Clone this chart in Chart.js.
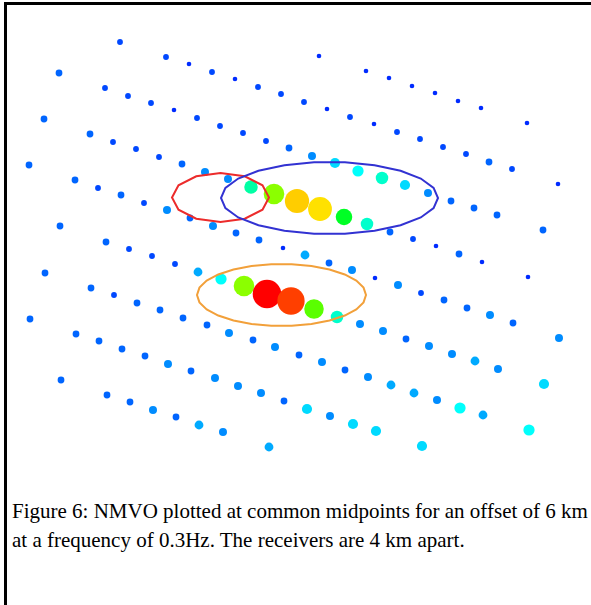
<!DOCTYPE html>
<html>
<head>
<meta charset="utf-8">
<script src="https://cdn.jsdelivr.net/npm/chart.js@4/dist/chart.umd.min.js"></script>
<style>
  html, body { margin: 0; padding: 0; background: #fff; overflow: hidden; }
  body { width: 591px; height: 605px; position: relative; }
  #frame { position: absolute; left: 4px; top: 2px; width: 700px; height: 700px;
           border-top: 3px solid #000; border-left: 3px solid #000; }
  #plot { position: absolute; left: 0; top: 0; }
  #caption { position: absolute; left: 12px; top: 497px; width: 590px;
             font-family: "Liberation Serif", "Times New Roman", serif;
             font-size: 21px; line-height: 29px; color: #000; white-space: nowrap; }
</style>
</head>
<body>
<div id="frame"></div>
<canvas id="plot" width="591" height="480"></canvas>
<div id="caption">Figure 6: NMVO plotted at common midpoints for an offset of 6 km<br>at a frequency of 0.3Hz. The receivers are 4 km apart.</div>
<script>
// common midpoint positions (x across, y down) and the NMVO value at each
const midX = [
  12.0,
  16.6, 18.9, 21.2, 23.5, 25.8, 28.1, 30.4, 32.7, 35.0, 37.4, 39.7, 42.0, 44.3, 46.6, 48.9, 51.2,
  31.9, 36.6, 38.9, 41.2, 43.5, 45.8, 48.1, 52.7,
  5.9,
  10.5, 12.8, 15.1, 17.4, 19.7, 22.0, 24.3, 26.6, 28.9, 31.2, 33.5, 35.8, 38.2, 40.5, 42.8, 45.1, 47.4, 49.7,
  55.8, 4.4,
  9.0, 11.3, 13.6, 15.9, 18.2, 20.5, 22.8, 25.1, 27.4, 29.7, 32.0, 34.4, 36.7, 39.0, 41.3, 43.6, 45.9, 48.2,
  52.8, 54.3, 2.9,
  7.5, 9.8, 12.1, 14.4, 16.7, 19.0, 21.3, 23.6, 25.9, 28.3, 30.5, 32.9, 35.2, 37.5, 39.8, 42.1, 44.4, 46.7, 49.0, 51.3,
  55.9, 6.0,
  10.6, 12.9, 15.2, 17.5, 19.8, 22.1, 24.4, 26.7, 29.1, 31.4, 33.7, 36.0, 38.3, 40.6, 42.9, 45.2, 47.5, 49.8,
  54.4, 4.5,
  9.1, 11.4, 13.7, 16.0, 18.3, 20.7, 22.9, 25.3, 27.5, 29.9, 32.2, 34.5, 36.8, 39.1, 41.4, 43.7, 46.0, 48.3,
  52.9, 3.0,
  7.6, 9.9, 12.2, 14.5, 16.8, 19.1, 21.5, 23.8, 26.1, 28.4, 30.7, 33.0, 35.3, 37.6,
  42.2, 6.1,
  10.7, 13.0, 15.3, 17.6, 19.9, 22.3,
  26.9
];
const midY = [
  4.2,
  5.7, 6.4, 7.2, 7.9, 8.7, 9.4, 10.2, 10.9, 11.7, 12.4, 13.2, 13.9, 14.7, 15.4, 16.2, 16.9,
  5.6, 7.1, 7.8, 8.6, 9.3, 10.1, 10.8, 12.3,
  7.3,
  8.8, 9.6, 10.3, 11.0, 11.8, 12.6, 13.3, 14.1, 14.8, 15.6, 16.3, 17.1, 17.8, 18.5, 19.3, 20.1, 20.8, 21.5,
  18.4, 11.9,
  13.4, 14.2, 14.9, 15.7, 16.4, 17.2, 17.9, 18.7, 19.4, 20.1, 20.9, 21.7, 22.4, 23.2, 23.9, 24.6, 25.4, 26.2,
  27.7, 23.0, 16.5,
  18.0, 18.8, 19.5, 20.3, 21.0, 21.8, 22.6, 23.3, 24.0, 24.8, 25.5, 26.3, 27.0, 27.8, 28.5, 29.3, 30.0, 30.8, 31.5, 32.3,
  33.8, 22.6,
  24.2, 24.9, 25.6, 26.4, 27.2, 27.9, 28.6, 29.4, 30.1, 30.9, 31.7, 32.4, 33.1, 33.9, 34.6, 35.4, 36.1, 36.9,
  38.4, 27.3,
  28.8, 29.5, 30.3, 31.0, 31.8, 32.5, 33.3, 34.0, 34.7, 35.5, 36.2, 37.0, 37.7, 38.5, 39.3, 40.0, 40.8, 41.5,
  43.0, 31.9,
  33.4, 34.1, 34.9, 35.6, 36.4, 37.1, 37.8, 38.6, 39.3, 40.1, 40.9, 41.6, 42.4, 43.1,
  44.6, 38.0,
  39.5, 40.2, 41.0, 41.7, 42.5, 43.2,
  44.7
];
const nmvo = [
  0.03,
  0.03, 0.00, 0.03, 0.00, 0.03, 0.03, 0.03, 0.00, 0.03, 0.00, 0.03, 0.03, 0.03, 0.03, 0.06, 0.03,
  0.00, 0.00, 0.00, 0.00, 0.00, 0.00, 0.00, 0.00,
  0.06,
  0.03, 0.03, 0.03, 0.00, 0.03, 0.03, 0.03, 0.03, 0.06, 0.10, 0.18, 0.22, 0.27, 0.18, 0.10, 0.06, 0.06, 0.06,
  0.00, 0.06,
  0.06, 0.03, 0.03, 0.03, 0.06, 0.10, 0.10, 0.31, 0.62, 0.79, 0.77, 0.44, 0.27, 0.06, 0.03, 0.00, 0.06, 0.00,
  0.00, 0.06, 0.06,
  0.06, 0.03, 0.06, 0.03, 0.10, 0.06, 0.10, 0.06, 0.06, 0.00, 0.13, 0.06, 0.10, 0.00, 0.10, 0.03, 0.06, 0.06, 0.10, 0.06,
  0.10, 0.06,
  0.06, 0.03, 0.03, 0.03, 0.13, 0.22, 0.62, 1.00, 0.935, 0.57, 0.27, 0.10, 0.10, 0.06, 0.10, 0.10, 0.13, 0.10,
  0.18, 0.06,
  0.06, 0.03, 0.06, 0.06, 0.06, 0.06, 0.10, 0.06, 0.10, 0.06, 0.10, 0.06, 0.10, 0.13, 0.13, 0.10, 0.22, 0.13,
  0.22, 0.06,
  0.06, 0.06, 0.06, 0.06, 0.10, 0.06, 0.10, 0.10, 0.10, 0.06, 0.18, 0.10, 0.18, 0.18,
  0.18, 0.06,
  0.06, 0.06, 0.10, 0.06, 0.13, 0.10,
  0.13
];

// hand-drawn ellipses around the anomalies: centre, half-width, half-height, colour
const ellX = [22.05, 32.95, 28.15];
const ellY = [19.75, 19.8, 29.5];
const ellA = [4.85, 10.85, 8.45];
const ellB = [2.45, 3.6, 3.1];
const ellColor = ["#ec2b2b", "#3232d2", "#f2a03a"];
const ellSides = [12, 22, 26];

function hue(v) { return "hsl(" + (230 * (1 - v)).toFixed(1) + ",100%,50%)"; }
function size(v) { return 2.3 + 12 * Math.pow(v, 0.85); }

const pts = midX.map((x, i) => ({ x: x, y: midY[i] }));

const ellipses = {
  id: "ellipses",
  afterDatasetsDraw(chart) {
    const ctx = chart.ctx, sx = chart.scales.x, sy = chart.scales.y;
    ctx.save();
    ctx.lineWidth = 2;
    ctx.lineJoin = "miter";
    ellX.forEach((cx, k) => {
      const n = ellSides[k];
      ctx.beginPath();
      for (let j = 0; j <= n; j++) {
        const t = j / n * Math.PI * 2;
        const px = sx.getPixelForValue(cx + ellA[k] * Math.cos(t));
        const py = sy.getPixelForValue(ellY[k] + ellB[k] * Math.sin(t));
        if (j === 0) ctx.moveTo(px, py); else ctx.lineTo(px, py);
      }
      ctx.closePath();
      ctx.strokeStyle = ellColor[k];
      ctx.stroke();
    });
    ctx.restore();
  }
};

new Chart(document.getElementById("plot"), {
  type: "scatter",
  data: {
    datasets: [{
      data: pts,
      pointRadius: nmvo.map(size),
      pointHoverRadius: nmvo.map(size),
      backgroundColor: nmvo.map(hue),
      borderWidth: 0,
      clip: false
    }]
  },
  options: {
    responsive: false,
    animation: false,
    devicePixelRatio: 1,
    layout: { padding: 0, autoPadding: false },
    plugins: { legend: { display: false }, tooltip: { enabled: false } },
    scales: {
      x: { type: "linear", min: 0, max: 59.1, display: false },
      y: { type: "linear", min: 0, max: 48, reverse: true, display: false }
    }
  },
  plugins: [ellipses]
});
</script>
</body>
</html>
